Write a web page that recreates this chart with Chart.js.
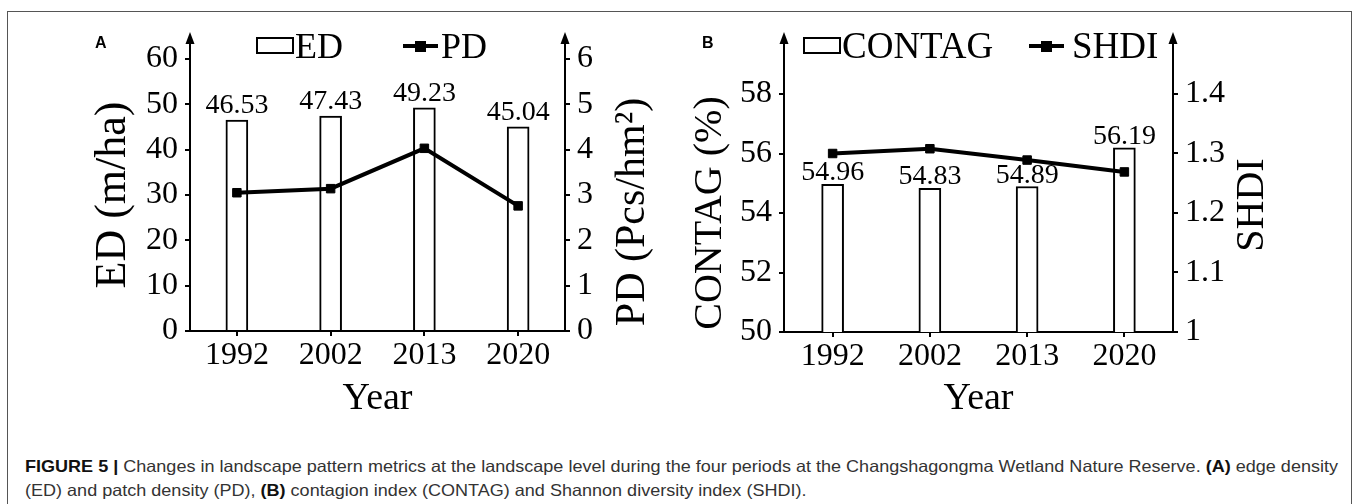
<!DOCTYPE html>
<html>
<head>
<meta charset="utf-8">
<script src="https://cdn.jsdelivr.net/npm/chart.js@4.4.1/dist/chart.umd.min.js"></script>
<style>
  body { margin: 0; background: #fff; }
  #fig { position: relative; width: 1358px; height: 504px; overflow: hidden; }
  #frame { position: absolute; left: 7px; top: 11px; width: 1345px; height: 500px; border: 1px solid #555; box-sizing: border-box; }
  #cA { position: absolute; left: 0; top: 0; }
  #cB { position: absolute; left: 680px; top: 0; }
  #caption { position: absolute; left: 25px; top: 454px; white-space: nowrap; transform-origin: 0 0;
    font-family: 'Liberation Sans', Arial, sans-serif; font-size: 16.5px; line-height: 24px; color: #333; }
  #caption b { color: #111; }
</style>
</head>
<body>
<div id="fig">
  <div id="frame"></div>
  <canvas id="cA" width="680" height="430"></canvas>
  <canvas id="cB" width="678" height="430"></canvas>
  <div id="caption"><span id="cap1"><b>FIGURE 5 |</b> Changes in landscape pattern metrics at the landscape level during the four periods at the Changshagongma Wetland Nature Reserve. <b>(A)</b> edge density</span><br>(ED) and patch density (PD), <b>(B)</b> contagion index (CONTAG) and Shannon diversity index (SHDI).</div>
</div>
<script>
const years = ['1992', '2002', '2013', '2020'];

// panel A
const edValues = [46.53, 47.43, 49.23, 45.04];
const pdValues = [3.05, 3.14, 4.03, 2.76];
const edTicks = [0, 10, 20, 30, 40, 50, 60];
const pdTicks = [0, 1, 2, 3, 4, 5, 6];

// panel B
const contagValues = [54.96, 54.83, 54.89, 56.19];
const shdiValues = [1.30, 1.308, 1.289, 1.269];
const contagTicks = [50, 52, 54, 56, 58];
const shdiTicks = [1, 1.1, 1.2, 1.3, 1.4];

Chart.defaults.font.family = "'Liberation Serif', 'Times New Roman', serif";
Chart.defaults.color = '#000';

const serif = Chart.defaults.font.family;

// stretch the caption so its first line runs to the right edge, like the original
const cap = document.getElementById('caption');
const w1 = document.getElementById('cap1').getBoundingClientRect().width;
cap.style.transform = 'scaleX(' + (1313 / w1) + ')';

// arrows, value labels, legend, right titles, panel letter
const deco = {
  id: 'deco',
  afterDraw(chart, args, o) {
    const ctx = chart.ctx;
    const ca = chart.chartArea;
    ctx.save();
    ctx.strokeStyle = '#000';
    ctx.fillStyle = '#000';

    // axis extensions with arrowheads
    [chart.scales.y.right, chart.scales.y1.left].forEach(x => {
      ctx.lineWidth = 2;
      ctx.beginPath();
      ctx.moveTo(x, ca.top + 1);
      ctx.lineTo(x, o.arrowTop + 8);
      ctx.stroke();
      ctx.beginPath();
      ctx.moveTo(x, o.arrowTop);
      ctx.lineTo(x - 4.5, o.arrowTop + 12);
      ctx.lineTo(x + 4.5, o.arrowTop + 12);
      ctx.closePath();
      ctx.fill();
    });

    // value labels above bars
    const barMeta = chart.getDatasetMeta(1);
    const barData = chart.data.datasets[1].data;
    ctx.font = '28px ' + serif;
    ctx.textAlign = 'center';
    ctx.textBaseline = 'alphabetic';
    barMeta.data.forEach((el, i) => {
      ctx.fillText(barData[i].toFixed(2), el.x, el.y - o.labelGap);
    });

    // legend
    const lg = o.legend;
    ctx.lineWidth = 2;
    ctx.strokeRect(lg.boxX, 38, 36, 15);
    ctx.font = lg.size + 'px ' + serif;
    ctx.textAlign = 'left';
    ctx.fillText(chart.data.datasets[1].label, lg.boxX + 38, 58);
    ctx.lineWidth = 4;
    ctx.beginPath();
    ctx.moveTo(lg.lineX, 46);
    ctx.lineTo(lg.lineX + 35, 46);
    ctx.stroke();
    ctx.fillRect(lg.lineX + 12, 41, 11, 11);
    ctx.fillText(chart.data.datasets[0].label, lg.lineTextX, 58);

    // right axis title, reading upwards
    ctx.save();
    ctx.translate(o.rightTitle.x, o.rightTitle.y);
    ctx.rotate(-Math.PI / 2);
    ctx.font = o.rightTitle.size + 'px ' + serif;
    ctx.textAlign = 'center';
    ctx.textBaseline = 'middle';
    ctx.fillText(o.rightTitle.text, 0, 0);
    ctx.restore();

    // panel letter
    ctx.font = "bold 16px 'Liberation Sans', Arial, sans-serif";
    ctx.textAlign = 'left';
    ctx.fillText(o.letter.text, o.letter.x, 48);
    ctx.restore();
  }
};

function axisGrid() {
  return { display: true, drawOnChartArea: false, drawTicks: true, tickLength: 5, color: '#000', lineWidth: 2 };
}

function makeChart(id, c) {
  return new Chart(document.getElementById(id), {
    type: 'bar',
    data: {
      labels: years,
      datasets: [
        {
          type: 'line', label: c.lineLabel, data: c.lineData, yAxisID: 'y1', order: 0,
          borderColor: '#000', borderWidth: 4, tension: 0,
          pointStyle: 'rect', pointRadius: 6, pointBackgroundColor: '#000', pointBorderColor: '#000', pointBorderWidth: 1
        },
        {
          label: c.barLabel, data: c.barData, yAxisID: 'y', order: 1,
          backgroundColor: '#fff', borderColor: '#000', borderWidth: 2, barThickness: 22
        }
      ]
    },
    options: {
      responsive: false,
      animation: false,
      devicePixelRatio: 1,
      layout: { padding: { top: c.top, left: 0, right: 0, bottom: 0 } },
      plugins: {
        legend: { display: false },
        tooltip: { enabled: false },
        deco: c.deco
      },
      scales: {
        x: {
          offset: true,
          grid: Object.assign(axisGrid(), { offset: false }),
          border: { display: true, color: '#000', width: 2 },
          ticks: { font: { size: 32, lineHeight: 1 }, padding: 4, maxRotation: 0 },
          title: { display: true, text: 'Year', font: { size: 38, lineHeight: 1 }, padding: { top: 0, bottom: 12 } },
          afterFit: s => { s.height = c.xHeight; }
        },
        y: {
          position: 'left',
          min: c.yTicks[0], max: c.yTicks[c.yTicks.length - 1],
          afterBuildTicks: s => { s.ticks = c.yTicks.map(v => ({ value: v })); },
          grid: axisGrid(),
          border: { display: true, color: '#000', width: 2 },
          ticks: { font: { size: 32, lineHeight: 1 }, padding: 7 },
          title: { display: true, text: c.yTitle, font: { size: c.yTitleSize, lineHeight: 1 }, padding: { top: c.yTitlePad, bottom: 0 } },
          afterFit: s => { s.width = c.yWidth; }
        },
        y1: {
          position: 'right',
          min: c.y1Ticks[0], max: c.y1Ticks[c.y1Ticks.length - 1],
          afterBuildTicks: s => { s.ticks = c.y1Ticks.map(v => ({ value: v })); },
          grid: axisGrid(),
          border: { display: true, color: '#000', width: 2 },
          ticks: { font: { size: 32, lineHeight: 1 }, padding: 7, callback: v => String(+(+v).toFixed(2)) },
          afterFit: s => { s.width = c.y1Width; }
        }
      }
    },
    plugins: [deco]
  });
}

makeChart('cA', {
  barLabel: 'ED', lineLabel: 'PD',
  barData: edValues, lineData: pdValues,
  yTicks: edTicks, y1Ticks: pdTicks,
  yTitle: 'ED (m/ha)', yTitleSize: 44, yTitlePad: 91,
  top: 59, xHeight: 99, yWidth: 190, y1Width: 115,
  deco: {
    arrowTop: 32, labelGap: 7,
    legend: { boxX: 257, lineX: 403, lineTextX: 441, size: 36 },
    rightTitle: { text: 'PD (Pcs/hm\u00B2)', x: 633, y: 212, size: 42 },
    letter: { text: 'A', x: 95 }
  }
});

makeChart('cB', {
  barLabel: 'CONTAG', lineLabel: 'SHDI',
  barData: contagValues, lineData: shdiValues,
  yTicks: contagTicks, y1Ticks: shdiTicks,
  yTitle: 'CONTAG (%)', yTitleSize: 40, yTitlePad: 10,
  top: 94, xHeight: 98, yWidth: 104, y1Width: 185,
  deco: {
    arrowTop: 32, labelGap: 4,
    legend: { boxX: 124, lineX: 349, lineTextX: 392, size: 37 },
    rightTitle: { text: 'SHDI', x: 572, y: 205, size: 40 },
    letter: { text: 'B', x: 22 }
  }
});
</script>
</body>
</html>
